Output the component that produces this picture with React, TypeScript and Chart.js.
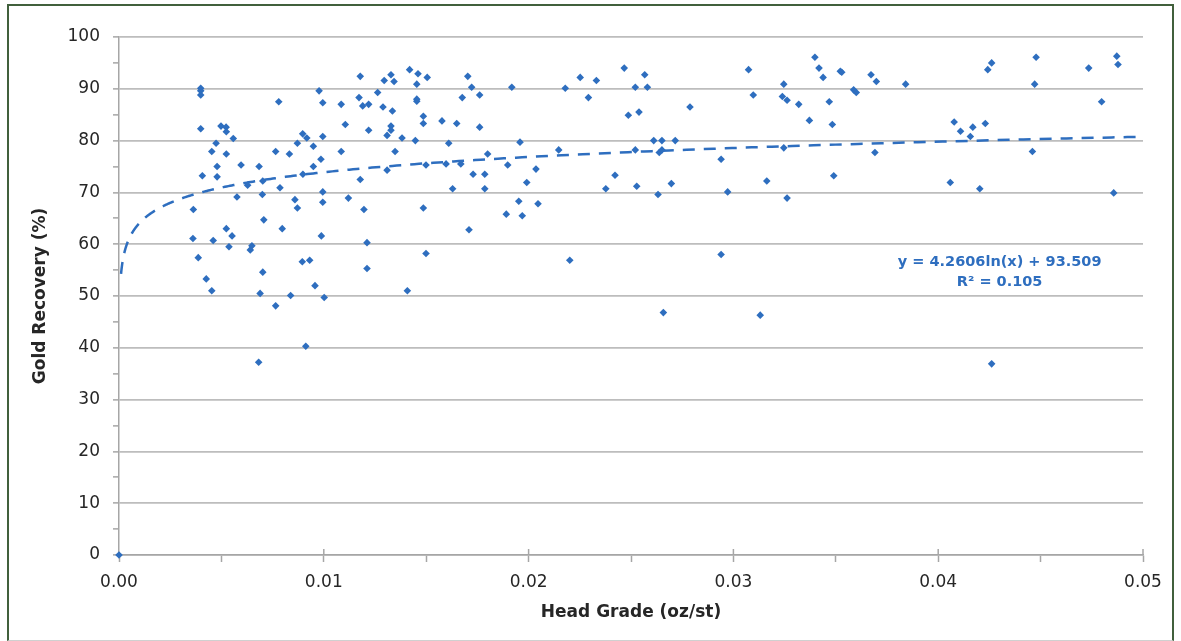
import { useEffect, useRef } from 'react';
import { Chart, registerables } from 'chart.js';

Chart.register(...registerables);

const headGrade = [
  0.00363, 0.00361, 0.00387, 0.00399, 0.00399, 0.00399, 0.00399, 0.00407, 0.00426, 0.00453,
  0.00453, 0.0046, 0.00474, 0.00479, 0.00479, 0.00498, 0.00523, 0.00524, 0.00524, 0.00524,
  0.00537, 0.00552, 0.00558, 0.00576, 0.00596, 0.00628, 0.00641, 0.00649, 0.00682, 0.00684,
  0.00689, 0.00702, 0.007, 0.00702, 0.00707, 0.00765, 0.00765, 0.0078, 0.00786, 0.00797,
  0.00832, 0.00838, 0.00859, 0.00871, 0.00871, 0.00897, 0.00895, 0.00898, 0.00912, 0.00917,
  0.00931, 0.00949, 0.00949, 0.00957, 0.00977, 0.00986, 0.00988, 0.00995, 0.00995, 0.00995,
  0.00995, 0.01002, 0.01085, 0.01085, 0.01105, 0.0112, 0.01172, 0.01178, 0.01178, 0.0119,
  0.01196, 0.01211, 0.01211, 0.01219, 0.01219, 0.01263, 0.01295, 0.01289, 0.01309, 0.01309,
  0.01328, 0.01328, 0.01328, 0.01335, 0.01343, 0.01348, 0.01382, 0.01408, 0.01419, 0.01447,
  0.01454, 0.01454, 0.01454, 0.0146, 0.01486, 0.01486, 0.01486, 0.01499, 0.01499, 0.01505,
  0.01577, 0.01597, 0.0161, 0.01629, 0.01649, 0.01669, 0.01676, 0.01703, 0.01709, 0.01722,
  0.01729, 0.01761, 0.01761, 0.01786, 0.01786, 0.018, 0.01891, 0.01898, 0.01918, 0.01952,
  0.01958, 0.01969, 0.01991, 0.02036, 0.02046, 0.02147, 0.02179, 0.02201, 0.02252, 0.02292,
  0.02331, 0.02377, 0.02422, 0.02467, 0.02487, 0.02521, 0.02521, 0.02528, 0.02539, 0.02567,
  0.0258, 0.02611, 0.02632, 0.02638, 0.02651, 0.02651, 0.02658, 0.02697, 0.02716, 0.02788,
  0.0294, 0.0294, 0.02972, 0.03074, 0.03097, 0.03131, 0.03163, 0.03246, 0.03239, 0.03262,
  0.03246, 0.03262, 0.03319, 0.03371, 0.03398, 0.03418, 0.03438, 0.03468, 0.03483, 0.0349,
  0.03522, 0.03529, 0.03587, 0.036, 0.03672, 0.03698, 0.03691, 0.03841, 0.04059, 0.04078,
  0.04109, 0.04157, 0.04169, 0.04203, 0.0423, 0.04242, 0.04261, 0.04261, 0.0446, 0.04471,
  0.04478, 0.04735, 0.04798, 0.04857, 0.04872, 0.04878, 0,
];

const goldRecovery = [
  66.7, 61.1, 57.4, 90.1, 89.6, 88.8, 82.3, 73.2, 53.3, 77.9,
  51.0, 60.7, 79.5, 75.0, 73.0, 82.8, 82.6, 81.7, 77.4, 63.0,
  59.5, 61.6, 80.4, 69.1, 75.3, 71.4, 58.9, 59.7, 37.2, 75.0,
  50.5, 72.2, 69.6, 54.6, 64.7, 77.9, 48.1, 87.5, 70.9, 63.0,
  77.4, 50.1, 68.6, 67.0, 79.5, 81.3, 56.6, 73.5, 40.3, 80.5,
  56.9, 78.9, 75.0, 52.0, 89.6, 76.4, 61.6, 87.3, 80.8, 70.1,
  68.1, 49.7, 87.0, 77.9, 83.1, 68.9, 88.3, 92.4, 72.5, 86.7,
  66.7, 60.3, 55.3, 87.0, 82.0, 89.3, 91.6, 86.5, 81.0, 74.3,
  92.7, 82.8, 82.0, 85.7, 91.4, 77.9, 80.5, 51.0, 93.7, 80.0,
  90.9, 88.0, 87.6, 92.9, 84.7, 83.3, 67.0, 75.3, 58.2, 92.2,
  83.8, 75.5, 79.5, 70.7, 83.3, 75.5, 88.3, 92.4, 62.8, 90.3,
  73.5, 88.8, 82.6, 73.5, 70.7, 77.4, 65.8, 75.3, 90.3, 68.3,
  79.7, 65.5, 71.9, 74.5, 67.8, 78.2, 90.1, 56.9, 92.2, 88.3,
  91.6, 70.7, 73.3, 94.0, 84.9, 90.3, 78.2, 71.2, 85.5, 92.7,
  90.3, 80.0, 69.6, 77.7, 80.0, 78.2, 46.8, 71.7, 80.0, 86.5,
  76.4, 58.0, 70.1, 93.7, 88.8, 46.3, 72.2, 90.9, 88.5, 87.8,
  78.6, 68.9, 87.0, 83.9, 96.1, 94.0, 92.2, 87.5, 83.1, 73.2,
  93.4, 93.2, 89.8, 89.3, 92.7, 91.4, 77.7, 90.9, 71.9, 83.6,
  81.8, 80.8, 82.6, 70.7, 83.3, 93.7, 95.0, 36.9, 77.9, 90.9,
  96.1, 94.0, 87.5, 69.9, 96.3, 94.7, 0,
];

const xTickLabels = ['0.00', '0.01', '0.02', '0.03', '0.04', '0.05'];
const yTickLabels = ['0', '10', '20', '30', '40', '50', '60', '70', '80', '90', '100'];

const trendSlope = 4.2606;
const trendIntercept = 93.509;
const trendR2 = 0.105;
const trendStart = 0.0001;
const trendEnd = 0.05;

const xTitle = 'Head Grade (oz/st)';
const yTitle = 'Gold Recovery (%)';
const equationText = `y = ${trendSlope}ln(x) + ${trendIntercept}`;
const r2Text = `R² = ${trendR2}`;

const BLUE = '#2E6EBF';
const GRID = '#BDBDBD';
const AXIS = '#A6A6A6';
const TEXT = '#262626';
const FONT = '"DejaVu Sans", sans-serif';

export default function App() {
  const ref = useRef<HTMLCanvasElement | null>(null);

  useEffect(() => {
    if (!ref.current) return;

    const points = headGrade.map((x, i) => ({ x, y: goldRecovery[i] }));

    const trend: { x: number; y: number }[] = [];
    const n = 400;
    const l0 = Math.log(trendStart);
    const l1 = Math.log(trendEnd);
    for (let i = 0; i <= n; i++) {
      const x = Math.exp(l0 + ((l1 - l0) * i) / n);
      trend.push({ x, y: trendSlope * Math.log(x) + trendIntercept });
    }

    const extras = {
      id: 'extras',
      afterDraw(chart: any) {
        const { ctx, scales } = chart;
        const xs = scales.x;
        const ys = scales.y;
        ctx.save();
        ctx.strokeStyle = AXIS;
        ctx.lineWidth = 1.5;
        for (let i = 1; i < xTickLabels.length; i++) {
          const px = xs.getPixelForValue(parseFloat(xTickLabels[i]));
          ctx.beginPath();
          ctx.moveTo(px, ys.bottom - 6);
          ctx.lineTo(px, ys.bottom);
          ctx.stroke();
        }
        ctx.fillStyle = BLUE;
        ctx.font = `bold 14.5px ${FONT}`;
        ctx.textAlign = 'center';
        ctx.textBaseline = 'middle';
        const ex = xs.getPixelForValue(0.043);
        ctx.fillText(equationText, ex, ys.getPixelForValue(56.5));
        ctx.fillText(r2Text, ex, ys.getPixelForValue(52.6));
        ctx.restore();
      },
    };

    const chart = new Chart(ref.current, {
      type: 'scatter',
      data: {
        datasets: [
          {
            type: 'line',
            label: 'Trend',
            data: trend,
            borderColor: BLUE,
            borderWidth: 2.5,
            borderDash: [12, 9],
            pointRadius: 0,
            fill: false,
            tension: 0,
            order: 2,
          } as any,
          {
            label: 'Gold Recovery',
            data: points,
            pointStyle: 'rectRot',
            pointRadius: 3.8,
            backgroundColor: BLUE,
            borderColor: BLUE,
            borderWidth: 0,
            clip: 6,
            order: 1,
          } as any,
        ],
      },
      options: {
        animation: false,
        responsive: false,
        layout: { padding: { top: 37, right: 38, left: 0, bottom: 0 } },
        plugins: {
          legend: { display: false },
          tooltip: { enabled: false },
        },
        scales: {
          x: {
            type: 'linear',
            min: 0,
            max: 0.05,
            afterFit: (s: any) => {
              s.height = 86;
            },
            ticks: {
              stepSize: 0.005,
              autoSkip: false,
              maxRotation: 0,
              padding: 10,
              color: TEXT,
              font: { family: FONT, size: 17 },
              callback: (v: any) => {
                const k = Number(v) / 0.01;
                const r = Math.round(k);
                return Math.abs(k - r) < 1e-6 ? xTickLabels[r] : '';
              },
            },
            grid: {
              color: 'transparent',
              tickColor: AXIS,
              tickLength: 7,
              tickWidth: 1.5,
            },
            border: { color: AXIS, width: 1.5 },
            title: {
              display: true,
              text: xTitle,
              color: TEXT,
              font: { family: FONT, size: 17, weight: 'bold' },
              padding: { top: 0, bottom: 18 },
            },
          },
          y: {
            type: 'linear',
            min: 0,
            max: 100,
            afterFit: (s: any) => {
              s.width = 119;
            },
            ticks: {
              stepSize: 5,
              autoSkip: false,
              padding: 13,
              color: TEXT,
              font: { family: FONT, size: 17 },
              callback: (v: any) => {
                const k = Number(v) / 10;
                const r = Math.round(k);
                return Math.abs(k - r) < 1e-6 ? yTickLabels[r] : '';
              },
            },
            grid: {
              color: (c: any) => (c.tick && c.tick.value % 10 === 0 ? GRID : 'transparent'),
              lineWidth: 1.75,
              tickColor: AXIS,
              tickLength: 6,
              tickWidth: 1.5,
            },
            border: { color: AXIS, width: 1.5 },
            title: {
              display: true,
              text: yTitle,
              color: TEXT,
              font: { family: FONT, size: 17, weight: 'bold' },
              padding: { top: 30, bottom: 0 },
            },
          },
        },
      },
      plugins: [extras],
    });

    return () => chart.destroy();
  }, []);

  return (
    <div
      style={{
        position: 'fixed',
        left: 0,
        top: 0,
        width: 1181,
        height: 641,
        background: '#ffffff',
        overflow: 'hidden',
      }}
    >
      <canvas
        ref={ref}
        width={1181}
        height={641}
        style={{ position: 'absolute', left: 0, top: 0, width: 1181, height: 641 }}
      />
      <div
        style={{
          position: 'absolute',
          left: 7,
          top: 4,
          width: 1163,
          height: 634,
          borderTop: '2px solid #41603C',
          borderLeft: '2px solid #41603C',
          borderRight: '2px solid #41603C',
          borderBottom: '1px solid #D0D0D0',
          pointerEvents: 'none',
        }}
      />
    </div>
  );
}
